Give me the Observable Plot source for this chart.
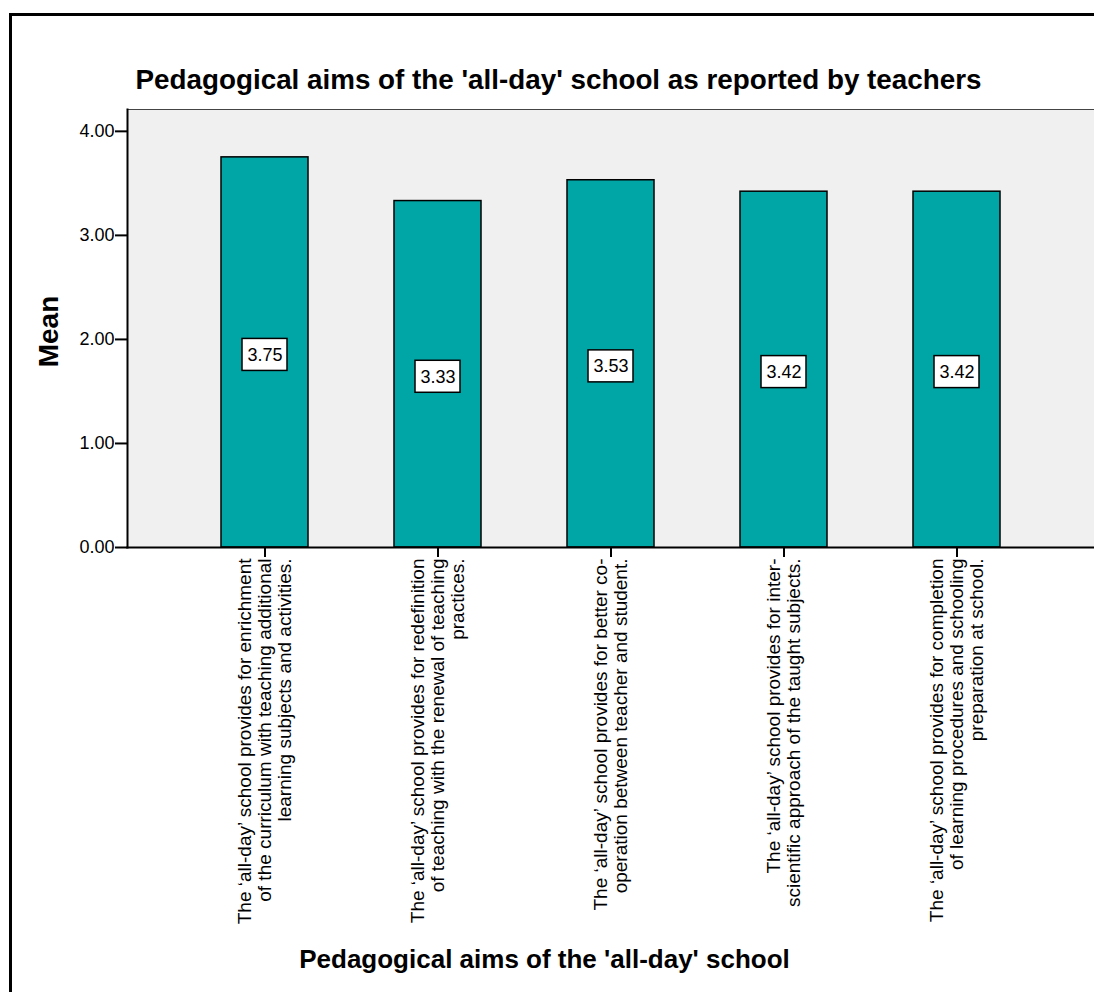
<!DOCTYPE html>
<html><head><meta charset="utf-8">
<script src="https://cdn.jsdelivr.net/npm/d3@7"></script>
<script src="https://cdn.jsdelivr.net/npm/@observablehq/plot@0.6"></script>
<style>
html,body{margin:0;padding:0;background:#fff;overflow:hidden;}
#wrap{position:relative;width:1094px;height:992px;}
#border{position:absolute;left:9px;top:13px;width:1200px;height:1200px;border:3px solid #000;box-sizing:border-box;pointer-events:none;}
</style></head><body>
<div id="wrap"><div id="chart"></div><div id="border"></div></div>
<script>
const categories = [
  "The \u2018all-day\u2019 school provides for enrichment\nof the curriculum with teaching additional\nlearning subjects and activities.",
  "The \u2018all-day\u2019 school provides for redefinition\nof teaching with the renewal of teaching\npractices.",
  "The \u2018all-day\u2019 school provides for better co-\noperation between teacher and student.",
  "The \u2018all-day\u2019 school provides for inter-\nscientific approach of the taught subjects.",
  "The \u2018all-day\u2019 school provides for completion\nof learning procedures and schooling\npreparation at school."
];
const means = [3.75, 3.33, 3.53, 3.42, 3.42];
const yTicks = [0, 1, 2, 3, 4];
const title = "Pedagogical aims of the 'all-day' school as reported by teachers";
const xTitle = "Pedagogical aims of the 'all-day' school";
const yTitle = "Mean";

const data = categories.map((c, i) => ({category: c, mean: means[i]}));

const chart = Plot.plot({
  width: 1094,
  height: 992,
  marginLeft: 127,
  marginRight: 0,
  marginTop: 109,
  marginBottom: 445,
  style: {background: "transparent", fontFamily: "'Liberation Sans', Arial, sans-serif", color: "#000", overflow: "visible"},
  x: {domain: categories, paddingInner: 0.5, paddingOuter: 0.53},
  y: {domain: [0, 4.21]},
  marks: [
    Plot.frame({fill: "#f0f0f0", stroke: "none"}),
    Plot.frame({anchor: "top", stroke: "#444", strokeWidth: 1.2}),
    Plot.barY(data, {x: "category", y: "mean", fill: "#00a5a5", stroke: "#000", strokeWidth: 1.5}),
    Plot.barY(data, {x: "category", y1: d => d.mean / 2, y2: d => d.mean / 2, insetLeft: 21, insetRight: 21, insetTop: -16, insetBottom: -16, fill: "#fff", stroke: "#000", strokeWidth: 1.5, dy: 2.5}),
    Plot.text(data, {x: "category", y: d => d.mean / 2, text: d => d.mean.toFixed(2), fontSize: 18, fill: "#000", dy: 2.5}),
    Plot.frame({anchor: "left", stroke: "#000", strokeWidth: 2}),
    Plot.frame({anchor: "bottom", stroke: "#000", strokeWidth: 2}),
    Plot.axisY(yTicks, {tickFormat: d => d.toFixed(2), tickSize: 12, tickPadding: 1, fontSize: 18, strokeWidth: 2, label: null}),
    Plot.axisX({tickSize: 10, strokeWidth: 2, tickFormat: () => "", label: null}),
    Plot.text(data, {x: "category", text: "category", frameAnchor: "bottom", dy: 11, rotate: -90, textAnchor: "end", lineAnchor: "middle", fontSize: 19, lineHeight: 1.05, fill: "#000"}),
    Plot.text([title], {text: d => d, frameAnchor: "top", textAnchor: "middle", lineAnchor: "bottom", dy: -21, dx: -52.5, fontSize: 27.8, fontWeight: "bold", fill: "#000"}),
    Plot.text([xTitle], {text: d => d, frameAnchor: "bottom", textAnchor: "middle", lineAnchor: "bottom", dy: 420, dx: -66.5, fontSize: 26, fontWeight: "bold", fill: "#000"}),
    Plot.text([yTitle], {text: d => d, frameAnchor: "left", textAnchor: "middle", lineAnchor: "middle", rotate: -90, dx: -78, dy: 3, fontSize: 28, fontWeight: "bold", fill: "#000"})
  ]
});
document.getElementById("chart").appendChild(chart);
</script>
</body></html>
